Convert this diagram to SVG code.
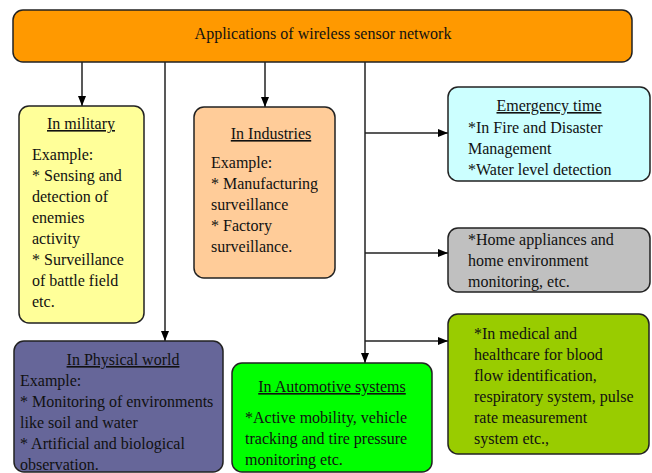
<svg xmlns="http://www.w3.org/2000/svg" width="652" height="473" viewBox="0 0 652 473">
  <style>
    .box { stroke: #222; stroke-width: 1.5; }
    .t { font-family: "Liberation Serif", "Times New Roman", serif; font-size: 16px; fill: #111; }
    .c { text-anchor: middle; }
    .u { text-decoration: underline; }
    .wire { stroke: #222; stroke-width: 1.5; fill: none; }
  </style>
  <defs>
    <marker id="arrow" viewBox="0 0 10 8" refX="10" refY="4" markerWidth="10" markerHeight="8" markerUnits="userSpaceOnUse" orient="auto">
      <path d="M0,0 L10,4 L0,8 z" fill="#000"/>
    </marker>
  </defs>

  <rect width="652" height="473" fill="#fff"/>

  <!-- connectors -->
  <g id="connectors">
    <line class="wire" x1="82" y1="62" x2="82" y2="106" marker-end="url(#arrow)"/>
    <line class="wire" x1="165" y1="62" x2="165" y2="341" marker-end="url(#arrow)"/>
    <line class="wire" x1="265" y1="62" x2="265" y2="107" marker-end="url(#arrow)"/>
    <line class="wire" x1="365" y1="62" x2="365" y2="363" marker-end="url(#arrow)"/>
    <line class="wire" x1="365" y1="133" x2="448" y2="133" marker-end="url(#arrow)"/>
    <line class="wire" x1="365" y1="253" x2="448" y2="253" marker-end="url(#arrow)"/>
    <line class="wire" x1="365" y1="341" x2="448" y2="341" marker-end="url(#arrow)"/>
  </g>

  <!-- root -->
  <g id="root">
    <rect class="box" x="13" y="10" width="619" height="52" rx="10" fill="#FF9900"/>
    <text class="t c" x="323" y="39">Applications of wireless sensor network</text>
  </g>

  <g id="military">
    <rect class="box" x="19" y="106" width="125" height="217" rx="10" fill="#FFFF99"/>
    <text class="t c u" x="81" y="129">In military</text>
    <text class="t" x="32" y="160">Example:</text>
    <text class="t" x="32" y="181">* Sensing and</text>
    <text class="t" x="32" y="202">detection of</text>
    <text class="t" x="32" y="223">enemies</text>
    <text class="t" x="32" y="244">activity</text>
    <text class="t" x="32" y="265">* Surveillance</text>
    <text class="t" x="32" y="286">of battle field</text>
    <text class="t" x="32" y="307">etc.</text>
  </g>

  <g id="industries">
    <rect class="box" x="194" y="107" width="141" height="171" rx="10" fill="#FFCC99"/>
    <text class="t c u" x="271" y="139">In Industries</text>
    <text class="t" x="211" y="168">Example:</text>
    <text class="t" x="211" y="189">* Manufacturing</text>
    <text class="t" x="211" y="210">surveillance</text>
    <text class="t" x="211" y="231">* Factory</text>
    <text class="t" x="211" y="252">surveillance.</text>
  </g>

  <g id="emergency">
    <rect class="box" x="448" y="87" width="202" height="94" rx="10" fill="#CCFFFF"/>
    <text class="t c u" x="549" y="111">Emergency time</text>
    <text class="t" x="468" y="133">*In Fire and Disaster</text>
    <text class="t" x="468" y="154">Management</text>
    <text class="t" x="468" y="175">*Water level detection</text>
  </g>

  <g id="home">
    <rect class="box" x="448" y="228" width="202" height="64" rx="10" fill="#C0C0C0"/>
    <text class="t" x="468" y="245">*Home appliances and</text>
    <text class="t" x="468" y="266">home environment</text>
    <text class="t" x="468" y="287">monitoring, etc.</text>
  </g>

  <g id="medical">
    <rect class="box" x="448" y="314" width="201" height="140" rx="10" fill="#99CC00"/>
    <text class="t" x="474" y="339">*In medical and</text>
    <text class="t" x="474" y="360">healthcare for blood</text>
    <text class="t" x="474" y="381">flow identification,</text>
    <text class="t" x="474" y="402">respiratory system, pulse</text>
    <text class="t" x="474" y="423">rate measurement</text>
    <text class="t" x="474" y="444">system etc.,</text>
  </g>

  <g id="physical">
    <rect class="box" x="14" y="341" width="209" height="131" rx="10" fill="#666699"/>
    <text class="t c u" x="123" y="365">In Physical world</text>
    <text class="t" x="20" y="386">Example:</text>
    <text class="t" x="20" y="407">* Monitoring of environments</text>
    <text class="t" x="20" y="428">like soil and water</text>
    <text class="t" x="20" y="449">* Artificial and biological</text>
    <text class="t" x="20" y="470">observation.</text>
  </g>

  <g id="automotive">
    <rect class="box" x="232" y="363" width="200" height="109" rx="10" fill="#00FF00"/>
    <text class="t c u" x="332" y="392">In Automotive systems</text>
    <text class="t" x="245" y="423">*Active mobility, vehicle</text>
    <text class="t" x="245" y="444">tracking and tire pressure</text>
    <text class="t" x="245" y="465">monitoring etc.</text>
  </g>
</svg>
